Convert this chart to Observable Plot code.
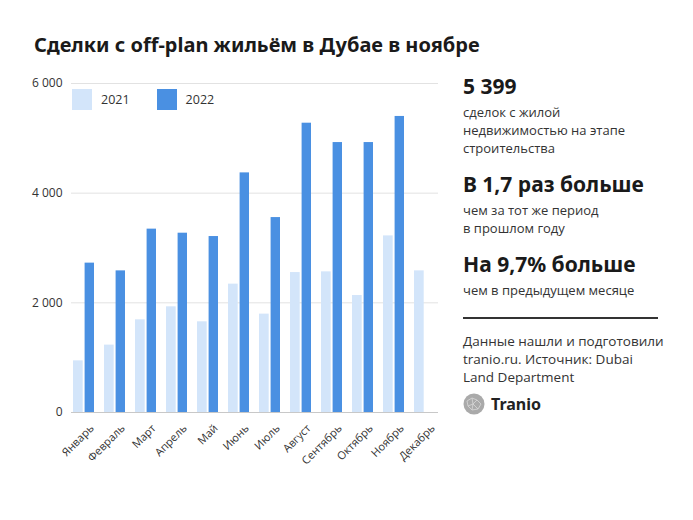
<!DOCTYPE html>
<html><head><meta charset="utf-8">
<script src="https://cdn.jsdelivr.net/npm/d3@7"></script>
<script src="https://cdn.jsdelivr.net/npm/@observablehq/plot@0.6"></script>
<style>
body{margin:0;background:#fff;font-family:"Open Sans",sans-serif;color:#222;}
#wrap{position:relative;width:693px;height:520px;overflow:hidden;}
#title{position:absolute;left:34px;top:31px;font-family:"Noto Sans",sans-serif;font-weight:700;font-size:20px;color:#1a1a1a;white-space:nowrap;}
#chart{position:absolute;left:0;top:60px;}
#legend{position:absolute;left:72px;top:89px;font-size:12.5px;color:#333;display:flex;align-items:center;}
.sw{display:inline-block;width:20px;height:21px;margin-right:9px;}
#side{position:absolute;left:463px;top:73px;width:230px;}
.big{font-family:"Noto Sans",sans-serif;font-weight:700;font-size:21px;line-height:26px;color:#1a1a1a;}
.small{font-size:13px;line-height:18px;color:#333;}
</style></head>
<body><div id="wrap">
<div id="title">Сделки с off-plan жильём в Дубае в ноябре</div>
<div id="chart"></div>
<div id="legend"></div>
<div id="side"></div>
</div>
<script>
const months = ["Январь","Февраль","Март","Апрель","Май","Июнь","Июль","Август","Сентябрь","Октябрь","Ноябрь","Декабрь"];
const values2021 = [942,1229,1690,1927,1654,2341,1794,2552,2565,2133,3221,2583];
const values2022 = [2724,2583,3344,3270,3209,4370,3555,5276,4923,4923,5399,null];
const years = ["2021","2022"];
const colors = ["#d3e5fa","#4a90e2"];
const yTicks = [0,2000,4000,6000];
const headline = ["5 399","В 1,7 раз больше","На 9,7% больше"];
const sublines = [["сделок с жилой","недвижимостью на этапе","строительства"],["чем за тот же период","в прошлом году"],["чем в предыдущем месяце"]];
const sourceLines = ["Данные нашли и подготовили","tranio.ru. Источник: Dubai","Land Department"];
const brand = "Tranio";

const d21 = months.map((m,i)=>({month:m, value:values2021[i]}));
const d22 = months.map((m,i)=>({month:m, value:values2022[i]})).filter(d=>d.value!=null);
const fmt = d => d===0 ? "0" : d3.format(",")(d).replace(/,/g," ");

const plot = Plot.plot({
  width: 450, height: 440,
  marginLeft: 71, marginRight: 12, marginTop: 23, marginBottom: 88,
  style:{fontFamily:"Open Sans, sans-serif", fontSize:"11px", color:"#333", background:"transparent"},
  x:{domain:months, paddingInner:0.32, paddingOuter:0, label:null},
  y:{domain:[0,6000], label:null},
  marks:[
    Plot.ruleY(yTicks.filter(d=>d>0), {stroke:"#e2e2e2", strokeWidth:1}),
    Plot.barY(d21, {x:"month", y:"value", fill:colors[0], insetRight:11.3}),
    Plot.barY(d22, {x:"month", y:"value", fill:colors[1], insetLeft:11.6}),
    Plot.ruleY([0], {stroke:"#c8c8c8", strokeWidth:1.2}),
    Plot.axisY({ticks:yTicks, tickFormat:fmt, tickSize:0, tickPadding:9, fontSize:12, label:null}),
    Plot.axisX({tickRotate:-45, tickSize:0, tickPadding:4, dx:8, dy:10, fontSize:11, label:null})
  ]
});
document.getElementById("chart").appendChild(plot);

const lg = document.getElementById("legend");
years.forEach((y,i)=>{
  const s=document.createElement("span");s.className="sw";s.style.background=colors[i];
  const t=document.createElement("span");t.textContent=y;t.style.marginRight=i===0?"27px":"0";
  lg.appendChild(s);lg.appendChild(t);
});

const side = document.getElementById("side");
let html = "";
headline.forEach((h,i)=>{
  html += `<div class="big" style="margin-top:${i===0?0:14}px">${h}</div>`;
  html += `<div class="small" style="margin-top:4px">${sublines[i].join("<br>")}</div>`;
});
html += `<div style="margin-top:18px;width:195px;border-top:2px solid #333"></div>`;
html += `<div class="small" style="margin-top:13px;font-size:13.5px">${sourceLines.join("<br>")}</div>`;
html += `<div style="margin-top:7px;display:flex;align-items:center">
<svg width="22" height="22" viewBox="0 0 22 22"><circle cx="11" cy="11" r="10.5" fill="#aaa"/>
<path d="M4 8 L9 5 L14 7 L18 11 L15 16 L9 17 L5 13 Z M9 5 L10 11 L14 7 M10 11 L5 13 M10 11 L15 16 M10 11 L9 17" fill="none" stroke="#d8d8d8" stroke-width="0.8"/></svg>
<span style="margin-left:6px;font-family:'Noto Sans',sans-serif;font-weight:700;font-size:16px;color:#222">${brand}</span></div>`;
side.innerHTML = html;
</script>
</body></html>
